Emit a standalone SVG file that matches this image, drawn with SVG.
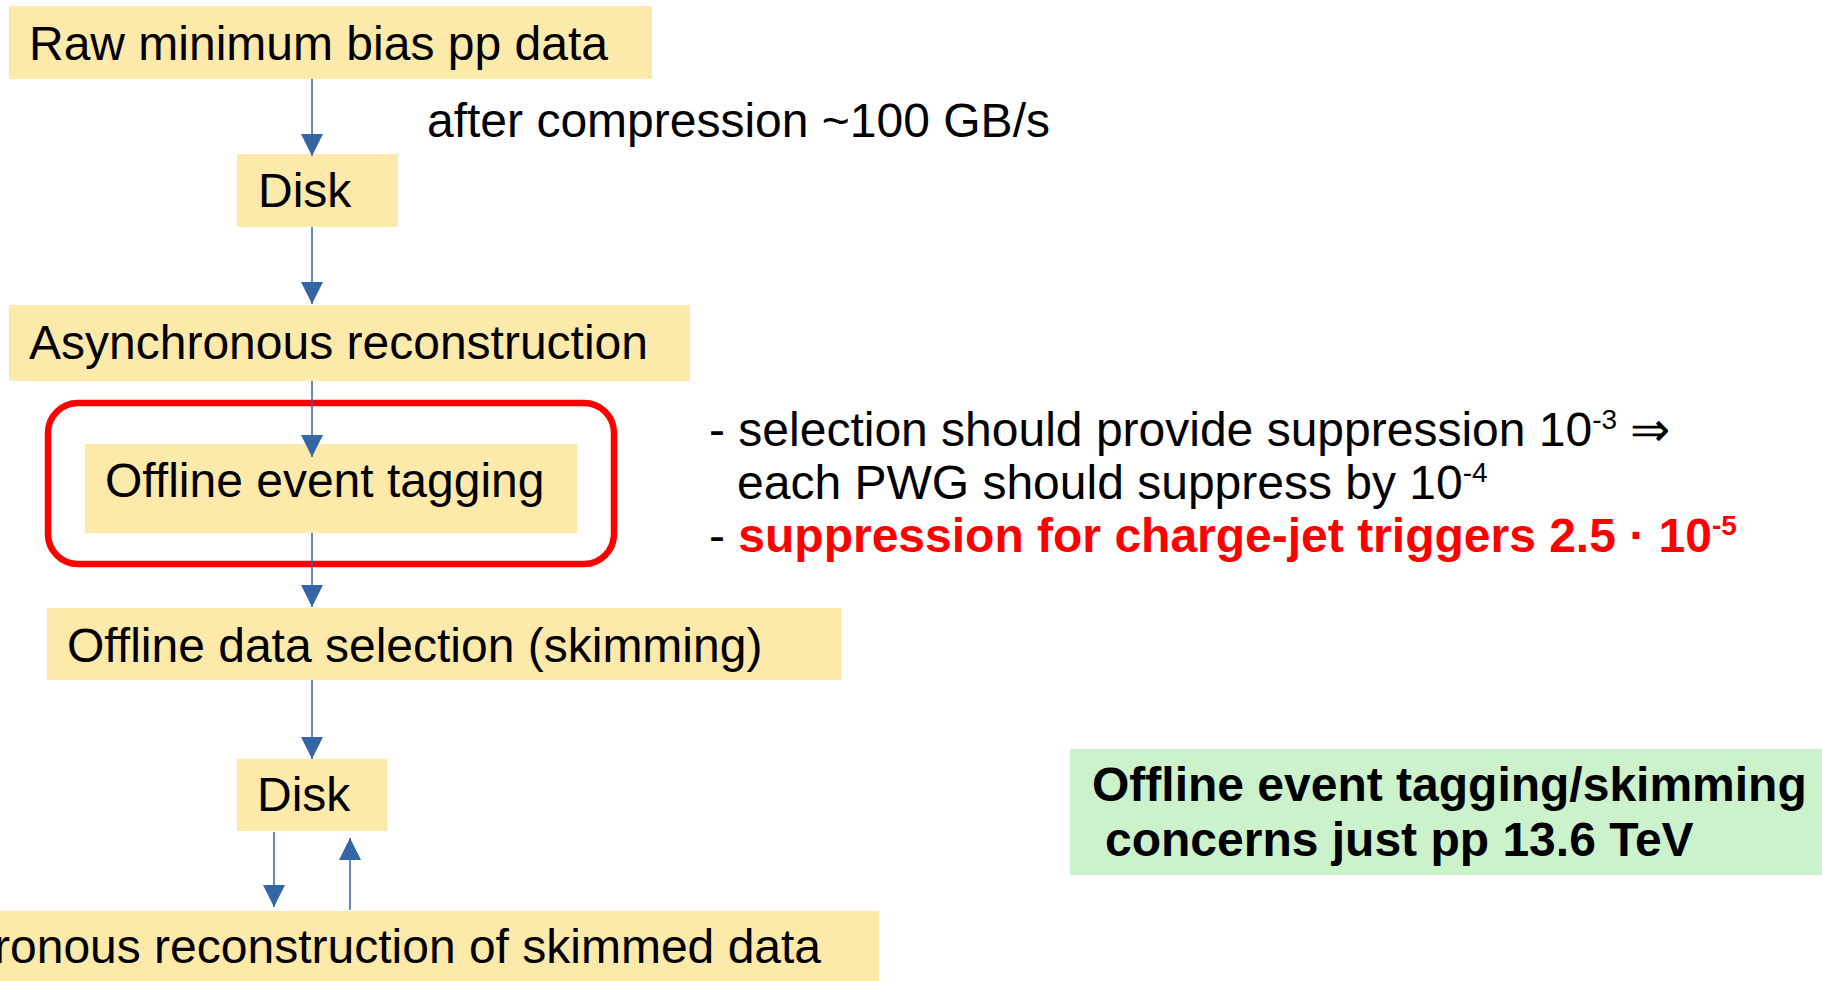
<svg xmlns="http://www.w3.org/2000/svg" width="1822" height="981" viewBox="0 0 1822 981">
<style>
.box{fill:#fde9a9}
.t{font-family:"Liberation Sans",Arial,sans-serif;font-size:48px;fill:#000}
.b{font-weight:bold}
.sup{font-size:28px}
.red{fill:#ff0000}
.arr{stroke:#3465a4;stroke-width:1.5;fill:none;marker-end:url(#ah)}
</style>
<defs>
<marker id="ah" viewBox="0 0 22 22" markerUnits="userSpaceOnUse" markerWidth="22" markerHeight="22" refX="22" refY="11" orient="auto">
<path d="M0,0 L22,11 L0,22 z" fill="#3465a4"/>
</marker>
</defs>
<rect width="1822" height="981" fill="#ffffff"/>
<g id="n-raw"><rect class="box" x="9" y="6" width="643" height="73"/><text class="t" x="29" y="60">Raw minimum bias pp data</text></g>
<g id="n-disk1"><rect class="box" x="237" y="154" width="161" height="73"/><text class="t" x="258" y="207">Disk</text></g>
<g id="n-async"><rect class="box" x="9" y="305" width="681" height="76"/><text class="t" x="29" y="359">Asynchronous reconstruction</text></g>
<g id="n-highlight"><rect x="48" y="403" width="566" height="161" rx="30" ry="30" fill="none" stroke="#ff0000" stroke-width="6.5"/></g>
<g id="n-tagging"><rect class="box" x="85" y="444" width="492" height="89"/><text class="t" x="105" y="497">Offline event tagging</text></g>
<g id="n-skim"><rect class="box" x="47" y="608" width="794" height="72"/><text class="t" x="67" y="662">Offline data selection (skimming)</text></g>
<g id="n-disk2"><rect class="box" x="237" y="759" width="150" height="72"/><text class="t" x="257" y="811">Disk</text></g>
<g id="n-async2"><rect class="box" x="0" y="911" width="879" height="70"/><text class="t" x="-6" y="963">ronous reconstruction of skimmed data</text></g>
<g id="connectors">
<line class="arr" x1="312" y1="79" x2="312" y2="156"/>
<line class="arr" x1="312" y1="227" x2="312" y2="304"/>
<line class="arr" x1="312" y1="381" x2="312" y2="457"/>
<line class="arr" x1="312" y1="533" x2="312" y2="607"/>
<line class="arr" x1="312" y1="680" x2="312" y2="759"/>
<line class="arr" x1="274" y1="832" x2="274" y2="907"/>
<line class="arr" x1="350" y1="910" x2="350" y2="838"/>
</g>
<g id="label-compression"><text class="t" x="427" y="137">after compression ~100 GB/s</text></g>
<g id="notes">
<text class="t" x="709" y="446">- selection should provide suppression 10<tspan class="sup" dy="-17">-3</tspan><tspan dy="17"> ⇒</tspan></text>
<text class="t" x="737" y="499">each PWG should suppress by 10<tspan class="sup" dy="-17">-4</tspan></text>
<text class="t" x="709" y="552">- <tspan class="red b">suppression for charge-jet triggers 2.5 · 10</tspan><tspan class="red b sup" dy="-17">-5</tspan></text>
</g>
<g id="n-note"><rect x="1070" y="749" width="752" height="126" fill="#ccf2cc"/><text class="t b" x="1092" y="801">Offline event tagging/skimming</text><text class="t b" x="1105" y="856">concerns just pp 13.6 TeV</text></g>
</svg>
